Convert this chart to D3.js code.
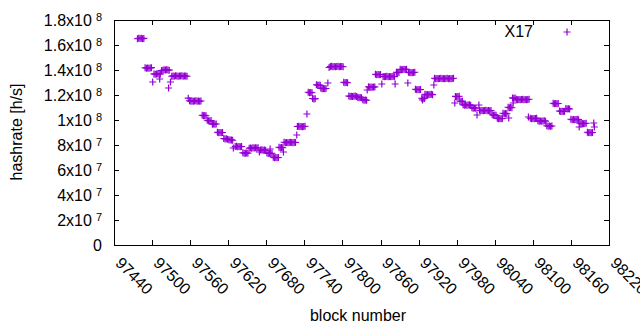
<!DOCTYPE html>
<html><head><meta charset="utf-8">
<script src="https://cdn.jsdelivr.net/npm/d3@7"></script>
<style>
body{margin:0;background:#fff}
svg text{font-family:"Liberation Sans",Arial,sans-serif;fill:#000}
</style>
</head><body>
<svg id="chart" width="640" height="330"></svg>
<script>
// ---------- data ----------
const seriesName = "X17";
const xTicks = [97440,97500,97560,97620,97680,97740,97800,97860,97920,97980,98040,98100,98160,98220];
const yTicks = [0,2e7,4e7,6e7,8e7,1e8,1.2e8,1.4e8,1.6e8,1.8e8];
const yTickLabels = [["0",""],["2x10","7"],["4x10","7"],["6x10","7"],["8x10","7"],["1x10","8"],["1.2x10","8"],["1.4x10","8"],["1.6x10","8"],["1.8x10","8"]];
const xTitle = "block number";
const yTitle = "hashrate [h/s]";

// [block number, hashrate in MH/s]
const phase1 = [
[97477,165.0],[97479,165.4],[97481,165.2],[97483,165.5],[97485,165.1],[97487,165.3],
[97489,141.8],[97491,141.5],[97493,141.7],[97495,141.4],[97497,141.6],[97499,141.9],
[97501,130.4],
[97503,136.9],[97505,136.6],[97507,136.8],[97509,137.0],[97511,136.7],[97512,132.8],[97513,136.8],
[97515,139.6],[97517,139.8],[97519,140.2],[97521,140.0],[97523,140.3],[97525,140.1],[97526,125.6],[97527,139.9],[97529,130.4],
[97531,135.0],[97533,135.3],[97535,135.1],[97537,135.4],[97539,135.2],[97541,135.0],[97543,135.3],[97545,135.2],[97547,135.4],[97549,135.1],[97551,135.3],[97553,135.2],[97555,135.0],
[97557,117.5],[97559,115.4],[97561,115.1],[97563,115.3],[97565,115.0],[97567,115.2],[97569,115.4],[97571,115.1],[97573,115.3],[97575,115.0],[97577,115.2]
];
const phase2 = [
[97579,103.8],[97581,103.5],[97583,103.7],[97585,103.4],
[97587,99.8],[97589,99.5],[97591,99.3],[97593,99.6],
[97595,96.6],[97597,96.9],[97599,96.7],[97601,96.8],
[97603,90.2],[97605,89.9],[97607,90.1],[97609,89.8],[97611,90.0],
[97613,85.2],[97615,84.9],[97617,85.0],[97619,84.6],[97621,84.2],[97623,84.0],[97625,84.1],[97627,83.8],[97628,77.6],
[97631,78.8],[97633,79.0],[97635,78.6],[97637,78.9],[97639,78.7],[97641,78.8],
[97643,73.8],[97645,73.5],[97647,73.4],[97649,73.7],[97651,73.5],
[97653,77.4],[97655,77.7],[97657,77.5],[97659,77.8],[97661,77.6],[97663,77.9],[97665,77.6],[97667,77.8],[97669,74.4],
[97671,76.0],[97673,76.2],[97675,75.9],[97677,76.1],[97679,75.8],
[97681,73.6],[97683,73.3],[97685,73.5],[97686,76.8],[97687,73.2],[97689,73.4],
[97691,70.2],[97693,69.9],[97695,70.1],[97697,69.8],[97699,70.0],
[97700,78.2],[97702,77.9],[97704,78.1],[97706,77.8],[97707,74.4],
[97708,82.2],[97710,81.9],[97712,82.1],[97714,81.8],[97716,82.0],[97718,82.3],[97720,82.1],[97722,81.9],[97724,82.2],[97726,82.0],[97728,88.0],
[97729,94.8],[97731,95.0],[97733,94.7],[97735,94.9],[97737,94.6],[97739,94.8],[97741,95.0],[97744,104.8]
];
const phase3 = [
[97746,122.2],[97748,121.9],[97750,122.1],[97752,121.8],
[97753,117.2],[97755,116.9],[97757,117.1],
[97759,128.2],[97761,127.9],[97763,128.1],[97765,127.8],
[97766,125.4],[97768,125.1],[97770,125.3],[97772,125.0],[97774,125.2],[97777,129.6],
[97779,142.0],[97781,142.8],[97783,143.0],[97785,142.7],[97787,142.9],[97789,142.6],[97791,142.8],[97793,143.0],[97795,142.7],[97797,142.9],[97799,142.8],[97801,142.6],
[97802,130.2],[97804,129.9],[97806,130.1],[97808,129.8],
[97810,119.2],[97812,118.9],[97814,119.1],[97816,118.8],[97818,119.0],[97820,119.2],[97822,118.9],
[97824,118.2],[97826,117.9],[97828,118.1],[97830,117.8],
[97832,116.2],[97834,115.9],[97836,116.1],[97838,115.8],[97839,124.0],
[97841,126.6],[97843,126.3],[97845,126.5],[97847,126.2],[97849,126.4],[97851,126.5],
[97852,136.6],[97854,136.3],[97856,136.5],[97858,136.2],[97860,136.4],[97862,128.8],
[97864,134.9],[97866,134.6],[97868,134.8],[97870,135.0],[97872,134.7],[97874,134.9],[97876,134.6],[97878,134.8],[97880,135.0],[97882,134.7],[97883,128.8],
[97885,138.2],[97887,137.9],[97889,138.1],
[97891,140.6],[97893,140.3],[97895,140.5],[97897,140.7],[97899,140.4],[97901,140.6],[97903,129.6],
[97904,138.2],[97906,137.9],[97908,138.1],[97910,137.8],[97912,138.0],[97914,138.2],
[97915,124.6],[97917,124.3],[97919,124.5],[97921,124.2],[97923,124.4],
[97925,117.4],[97926,116.0],[97927,117.1],[97929,117.3],
[97930,120.6],[97932,120.3],[97934,120.5],[97936,120.2],[97938,120.4],[97940,120.6],[97942,120.3],[97944,128.0],
[97945,133.4],[97947,133.1],[97949,133.3],[97951,133.0],[97953,133.2],[97955,133.4],[97957,133.1],[97959,133.3],[97961,133.0],[97963,133.2],[97965,133.4],[97967,133.1],[97969,133.3],[97971,133.0],[97973,133.2],[97975,133.4],[97977,113.6]
];
const phase4 = [
[97978,118.9],[97980,118.6],[97982,118.8],[97984,119.0],
[97985,115.2],[97987,114.9],[97989,115.1],
[97990,112.2],[97992,111.9],[97994,112.1],[97996,111.8],[97998,112.0],[98000,112.2],[98002,111.9],
[98004,109.8],[98006,109.5],[98008,109.7],[98010,109.4],[98012,104.0],[98015,112.0],
[98016,107.8],[98018,107.5],[98020,107.7],[98022,107.4],[98024,107.6],[98026,107.8],[98028,107.5],[98030,107.7],[98032,107.4],[98034,107.6],
[98036,104.2],[98038,103.9],[98040,104.1],[98042,103.8],
[98044,101.4],[98046,101.1],[98048,101.3],[98050,101.0],[98052,101.2],
[98053,105.4],[98055,105.1],[98057,105.3],[98059,105.0],
[98061,110.2],[98062,101.6],[98063,109.9],[98065,110.1],[98067,109.8],
[98068,117.7],[98069,113.6],[98070,117.4],[98072,117.6],
[98074,116.6],[98076,116.3],[98078,116.5],[98080,116.2],[98082,116.4],[98084,116.6],[98086,116.3],[98088,116.5],[98090,116.2],[98092,116.4],[98093,102.4],[98094,116.6],
[98096,101.4],[98098,101.1],[98100,101.3],[98102,101.0],[98104,101.2],[98106,101.4],
[98108,99.4],[98110,99.1],[98112,99.3],[98114,99.0],[98116,99.2],[98118,99.4],[98120,99.1],
[98122,95.4],[98124,95.1],[98126,95.3],[98128,95.0],[98130,95.2],
[98132,113.4],[98134,113.1],[98136,113.3],[98138,113.0],[98140,113.2],
[98142,107.2],[98144,106.9],[98146,107.1],[98148,106.8],[98150,107.0],
[98152,109.2],[98154,108.9],[98156,109.1],[98158,108.8],
[98160,100.6],[98162,100.3],[98164,100.5],[98166,100.2],[98168,100.4],[98170,100.6],[98172,100.3],[98173,94.4],
[98174,97.4],[98176,97.1],[98178,97.3],[98180,97.0],[98182,97.2],[98184,97.4],
[98186,90.2],[98188,89.9],[98190,90.1],[98192,89.8],[98194,90.0],[98196,97.6],[98197,94.4]
];

// ---------- chart ----------
const W = 640, H = 330;
const M = {left:114, right:31, top:20, bottom:85};
const color = "#9400d3";
const svg = d3.select("#chart");
const x = d3.scaleLinear().domain([97440,98220]).range([M.left, W - M.right]);
const y = d3.scaleLinear().domain([0,1.8e8]).range([H - M.bottom, M.top]);
const FS = 16;

const plus = "M-3.5,0H3.5M0,-3.5V3.5";
const samples = [].concat(phase1, phase2, phase3, phase4);

// points
svg.append("g")
  .attr("fill","none").attr("stroke",color).attr("stroke-width",1.2)
  .selectAll("path").data(samples).join("path")
  .attr("transform", d => `translate(${x(d[0])},${y(d[1]*1e6)})`)
  .attr("d", plus);

// axes (ticks inward, mirrored)
const axG = svg.append("g").attr("shape-rendering","crispEdges");
const gB = axG.append("g").attr("transform",`translate(0,${H-M.bottom})`)
  .call(d3.axisBottom(x).tickValues(xTicks).tickSize(-5).tickFormat(d3.format("d")));
const gT = axG.append("g").attr("transform",`translate(0,${M.top})`)
  .call(d3.axisTop(x).tickValues(xTicks).tickSize(-5).tickFormat(""));
const gL = axG.append("g").attr("transform",`translate(${M.left},0)`)
  .call(d3.axisLeft(y).tickValues(yTicks).tickSize(-5).tickFormat(""));
const gR = axG.append("g").attr("transform",`translate(${W-M.right},0)`)
  .call(d3.axisRight(y).tickValues(yTicks).tickSize(-5).tickFormat(""));
axG.selectAll(".domain").remove();
axG.selectAll(".tick line").attr("stroke","#000");

// frame
axG.append("rect")
  .attr("x", M.left).attr("y", M.top)
  .attr("width", W - M.right - M.left).attr("height", H - M.bottom - M.top)
  .attr("fill","none").attr("stroke","#000").attr("stroke-width",1);

// x tick labels rotated
gB.selectAll(".tick text")
  .attr("x",0).attr("y",0).attr("dy",null)
  .attr("text-anchor","start")
  .attr("font-size",FS).attr("font-family",null)
  .attr("transform","translate(0,19) rotate(45)");

// y tick labels with superscripts
gL.selectAll(".tick text").remove();
gL.selectAll(".tick").each(function(d,i){
  const lab = yTickLabels[i];
  const t = d3.select(this).append("text")
    .attr("x",-12).attr("y",5.5).attr("text-anchor","end")
    .attr("font-size",FS).attr("fill","#000");
  t.append("tspan").text(lab[0]);
  if (lab[1]) t.append("tspan").attr("dx",4).attr("dy",-5).attr("font-size",11).text(lab[1]);
});

// titles
svg.append("text").attr("x",358).attr("y",321).attr("text-anchor","middle")
  .attr("font-size",FS).text(xTitle);
svg.append("text").attr("transform","translate(22,132) rotate(-90)").attr("text-anchor","middle")
  .attr("font-size",FS).text(yTitle);

// legend
svg.append("text").attr("x",533).attr("y",37).attr("text-anchor","end")
  .attr("font-size",FS).text(seriesName);
svg.append("path").attr("transform","translate(567,32)").attr("d",plus)
  .attr("stroke",color).attr("stroke-width",1.2).attr("fill","none");
</script>
</body></html>
